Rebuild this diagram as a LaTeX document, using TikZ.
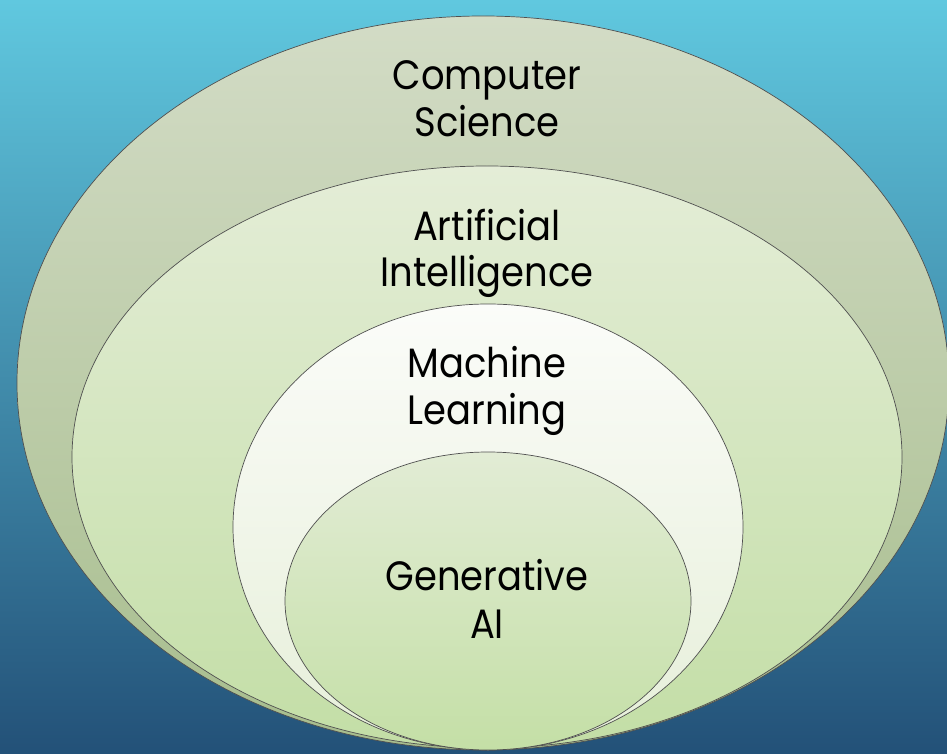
\documentclass[tikz,border=0pt]{standalone}
\usepackage{fontspec}
\setmainfont{Poppins}[FakeStretch=0.9]
\usetikzlibrary{shapes.geometric}
\definecolor{bgtop}{HTML}{60C8DF}
\definecolor{bgmid}{HTML}{3C9ABA}
\definecolor{bgbot}{HTML}{235178}
\definecolor{edge}{HTML}{505050}
\definecolor{csTop}{HTML}{D3DCC6}
\definecolor{csBot}{HTML}{A7BD8D}
\definecolor{aiTop}{HTML}{E4EDD7}
\definecolor{aiBot}{HTML}{C3DEA6}
\definecolor{mlTop}{HTML}{FBFCF9}
\definecolor{mlBot}{HTML}{E6EFD9}
\definecolor{gaTop}{HTML}{E2ECD5}
\definecolor{gaBot}{HTML}{C4DFA6}
\tikzset{
  ring/.style={ellipse, draw=edge, line width=0.7pt, inner sep=0pt},
  lbl/.style={anchor=base, inner sep=0pt, font=\fontsize{41}{46}\selectfont, text=black}
}
\begin{document}
\begin{tikzpicture}[x=1pt,y=1pt]
\useasboundingbox (0,0) rectangle (947,753);
\shade[top color=bgtop, middle color=bgmid, bottom color=bgbot] (0,0) rectangle (947,753);
\node[ring, top color=csTop, bottom color=csBot, minimum width=932pt, minimum height=734pt] (cs) at (483,370) {};
\node[ring, top color=aiTop, bottom color=aiBot, minimum width=830pt, minimum height=582pt] (ai) at (487,296) {};
\node[ring, top color=mlTop, bottom color=mlBot, minimum width=510pt, minimum height=446pt] (ml) at (488,226) {};
\node[ring, top color=gaTop, bottom color=gaBot, minimum width=406pt, minimum height=298pt] (ga) at (488,152) {};
\node[lbl] (cs1) at (487,663) {Computer};
\node[lbl] (cs2) at (487,616) {Science};
\node[lbl] (ai1) at (487,512) {Artificial};
\node[lbl] (ai2) at (487,466) {Intelligence};
\node[lbl] (ml1) at (487,375) {Machine};
\node[lbl] (ml2) at (487,328) {Learning};
\node[lbl] (ga1) at (487,163) {Generative};
\node[lbl] (ga2) at (487,115) {AI};
\end{tikzpicture}
\end{document}
